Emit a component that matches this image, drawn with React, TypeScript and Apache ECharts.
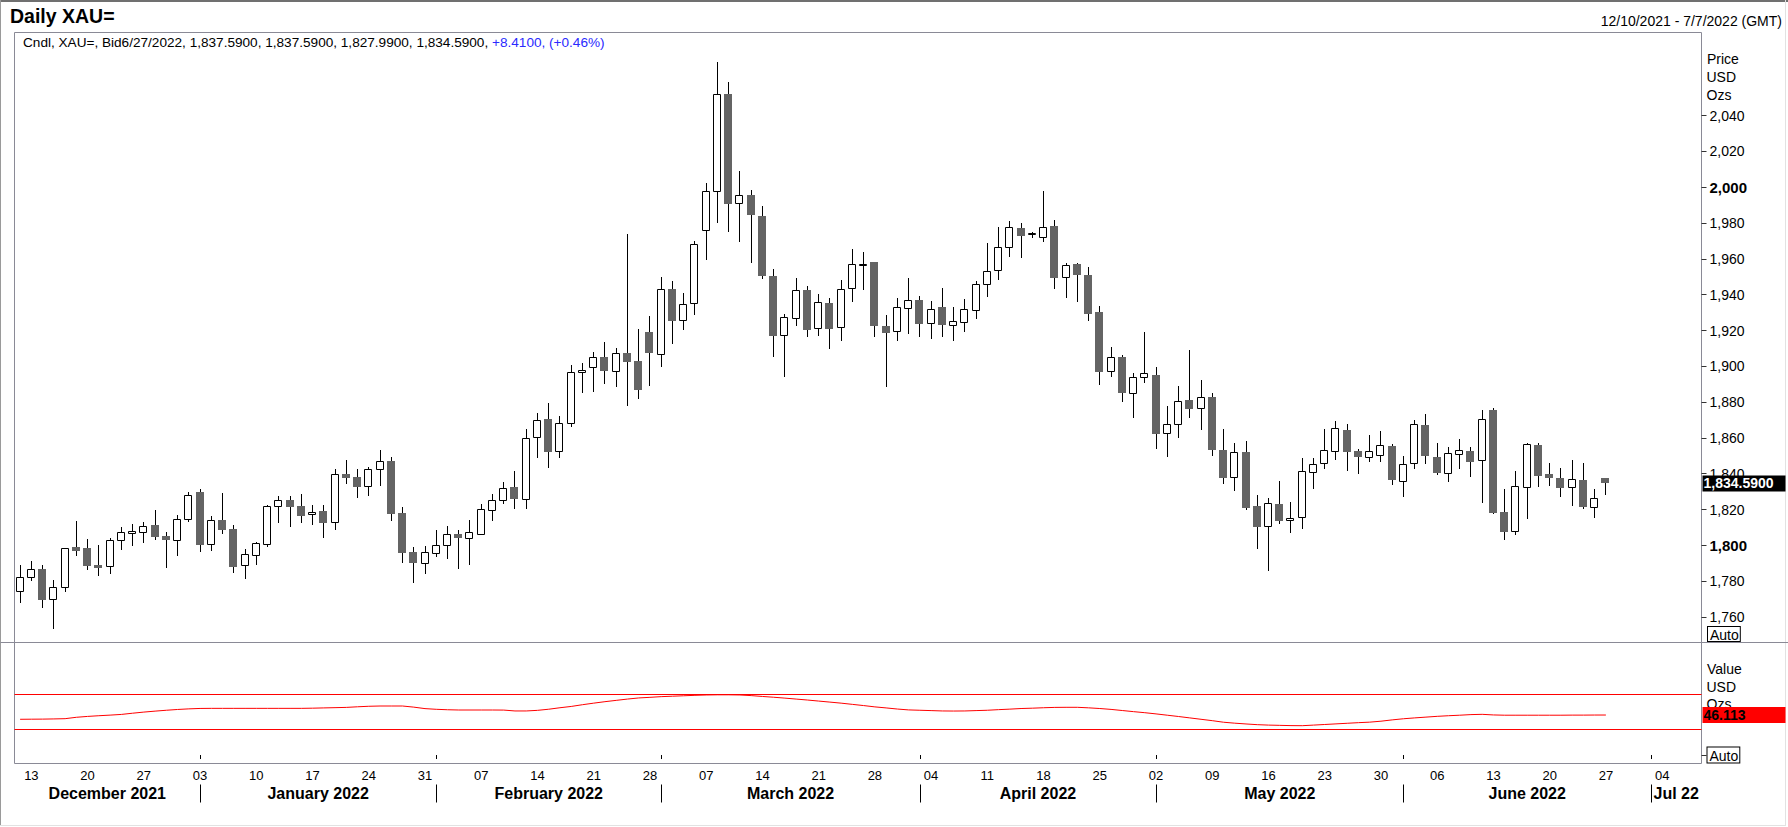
import React, { useEffect, useRef } from "react";
import * as echarts from "echarts";

const FONT = '"Liberation Sans", Arial, Helvetica, sans-serif';

// ---------- categories: every weekday shown on the time axis ----------
function weekdays(start: string, end: string): string[] {
  const out: string[] = [];
  const d = new Date(start + "T00:00:00Z");
  const e = new Date(end + "T00:00:00Z");
  while (d <= e) {
    const wd = d.getUTCDay();
    if (wd !== 0 && wd !== 6) out.push(d.toISOString().slice(0, 10));
    d.setUTCDate(d.getUTCDate() + 1);
  }
  return out;
}
const dates: string[] = weekdays("2021-12-10", "2022-07-07");

// ---------- daily candles [open, high, low, close] from 2021-12-10 ----------
const candles: number[][] = [
  [1774.3, 1789.0, 1768.0, 1782.1], [1782.1, 1791.2, 1780.2, 1786.6], [1786.6, 1789.0, 1765.2, 1769.6],
  [1769.8, 1780.4, 1753.0, 1776.5], [1776.5, 1798.6, 1774.1, 1798.3], [1799.0, 1813.6, 1794.2, 1797.0],
  [1798.5, 1803.5, 1786.4, 1788.6], [1789.2, 1800.2, 1783.0, 1787.5], [1788.2, 1803.9, 1784.2, 1802.8],
  [1802.8, 1810.2, 1797.6, 1807.2], [1807.0, 1811.7, 1799.8, 1807.8], [1807.2, 1812.8, 1801.5, 1810.6],
  [1811.3, 1819.7, 1803.2, 1804.8], [1805.2, 1807.2, 1787.5, 1803.2], [1803.2, 1816.7, 1794.2, 1814.5],
  [1814.5, 1829.6, 1813.2, 1827.9], [1829.8, 1831.3, 1796.4, 1800.2], [1800.5, 1816.2, 1797.0, 1813.9],
  [1814.1, 1829.2, 1806.5, 1808.7], [1809.1, 1811.2, 1784.7, 1788.1], [1788.8, 1797.8, 1781.4, 1795.0],
  [1794.4, 1801.7, 1789.2, 1801.1], [1800.9, 1822.5, 1799.2, 1821.8], [1821.8, 1827.4, 1812.6, 1825.1],
  [1825.3, 1827.5, 1810.4, 1821.6], [1822.0, 1828.7, 1812.6, 1816.6], [1817.3, 1822.5, 1811.5, 1818.6],
  [1819.2, 1822.5, 1804.3, 1812.6], [1812.8, 1842.6, 1808.7, 1839.6], [1839.8, 1847.6, 1834.4, 1837.7],
  [1838.2, 1842.6, 1826.6, 1832.7], [1833.3, 1843.7, 1827.7, 1842.6], [1842.4, 1853.2, 1833.3, 1847.1],
  [1847.1, 1849.1, 1813.8, 1817.7], [1818.0, 1821.2, 1789.9, 1795.9], [1796.3, 1798.9, 1778.8, 1790.3],
  [1789.9, 1799.4, 1783.8, 1796.1], [1795.5, 1808.5, 1793.7, 1800.2], [1800.0, 1810.8, 1792.5, 1806.3],
  [1806.3, 1808.5, 1786.9, 1803.9], [1803.9, 1814.1, 1789.2, 1807.2], [1806.1, 1823.1, 1805.8, 1820.1],
  [1819.5, 1828.7, 1813.8, 1825.1], [1825.3, 1835.4, 1823.3, 1832.0], [1832.6, 1841.7, 1820.1, 1826.0],
  [1825.7, 1865.0, 1820.1, 1859.8], [1860.3, 1874.1, 1849.0, 1869.8], [1870.6, 1879.7, 1843.0, 1852.3],
  [1852.5, 1872.2, 1849.0, 1868.3], [1868.1, 1900.7, 1865.9, 1896.6], [1897.0, 1901.7, 1884.9, 1897.9],
  [1899.6, 1908.0, 1885.8, 1905.2], [1905.2, 1913.6, 1889.9, 1897.6], [1897.6, 1910.2, 1888.2, 1907.2],
  [1907.4, 1973.9, 1878.0, 1902.6], [1903.0, 1920.8, 1881.9, 1886.9], [1919.2, 1928.1, 1889.2, 1907.6],
  [1907.1, 1949.9, 1899.8, 1943.2], [1943.2, 1947.7, 1912.6, 1925.5], [1925.8, 1940.9, 1920.3, 1934.6],
  [1935.2, 1970.0, 1928.7, 1968.1], [1975.9, 2002.2, 1959.6, 1997.7], [1997.7, 2069.8, 1980.2, 2051.9],
  [2052.1, 2058.6, 1975.2, 1990.9], [1991.0, 2008.9, 1969.6, 1995.5], [1995.5, 1998.5, 1957.9, 1984.7],
  [1984.0, 1989.5, 1949.0, 1950.6], [1950.4, 1954.4, 1905.4, 1917.1], [1917.3, 1929.2, 1894.2, 1927.4],
  [1926.8, 1949.1, 1922.7, 1942.4], [1942.6, 1944.9, 1916.6, 1920.5], [1921.2, 1940.4, 1917.1, 1935.7],
  [1935.4, 1938.2, 1909.8, 1921.0], [1921.8, 1948.2, 1914.3, 1943.0], [1943.5, 1965.5, 1936.1, 1957.0],
  [1956.6, 1963.9, 1942.8, 1957.3], [1958.3, 1958.5, 1916.2, 1922.7], [1922.5, 1928.5, 1888.6, 1918.8],
  [1919.5, 1938.0, 1914.3, 1932.9], [1932.4, 1949.1, 1917.9, 1936.9], [1937.0, 1939.1, 1916.2, 1923.8],
  [1924.0, 1936.3, 1915.1, 1931.8], [1933.1, 1943.7, 1916.6, 1923.3], [1922.9, 1932.9, 1914.3, 1925.1],
  [1924.6, 1937.6, 1919.4, 1931.8], [1931.3, 1947.5, 1926.2, 1945.8], [1945.8, 1968.7, 1938.9, 1953.1],
  [1953.6, 1977.6, 1948.2, 1966.5], [1966.5, 1981.0, 1961.3, 1977.6], [1977.1, 1979.9, 1960.3, 1973.0],
  [1973.7, 1975.2, 1971.9, 1974.5], [1972.0, 1997.9, 1969.6, 1978.0], [1978.4, 1981.7, 1943.0, 1949.5],
  [1949.7, 1957.5, 1938.3, 1956.8], [1957.0, 1957.5, 1936.1, 1951.2], [1950.8, 1955.5, 1925.5, 1929.4],
  [1930.2, 1933.7, 1889.7, 1897.0], [1897.2, 1910.8, 1894.2, 1905.0], [1905.0, 1906.3, 1880.2, 1885.3],
  [1885.3, 1896.1, 1871.3, 1893.8], [1893.8, 1919.0, 1890.9, 1896.1], [1895.1, 1899.4, 1854.0, 1862.4],
  [1862.5, 1877.8, 1849.5, 1867.6], [1867.6, 1889.0, 1860.1, 1880.6], [1881.2, 1909.1, 1871.3, 1876.3],
  [1876.5, 1892.3, 1864.6, 1882.7], [1882.9, 1884.9, 1850.1, 1853.4], [1853.2, 1865.0, 1834.4, 1837.8],
  [1838.0, 1857.0, 1830.5, 1851.9], [1852.1, 1858.3, 1819.7, 1821.0], [1821.9, 1828.1, 1798.1, 1810.4],
  [1810.6, 1826.2, 1785.8, 1823.4], [1823.1, 1835.9, 1811.7, 1813.8], [1813.9, 1824.2, 1806.7, 1815.1],
  [1815.6, 1848.8, 1809.3, 1841.3], [1840.8, 1848.8, 1831.6, 1845.2], [1845.8, 1865.0, 1842.8, 1853.0],
  [1852.9, 1869.4, 1847.8, 1865.3], [1864.4, 1867.8, 1841.7, 1852.3], [1852.7, 1853.8, 1840.0, 1849.5],
  [1849.1, 1861.6, 1846.7, 1852.5], [1850.3, 1863.9, 1846.7, 1855.8], [1855.5, 1856.6, 1833.7, 1836.7],
  [1835.7, 1849.9, 1827.2, 1845.2], [1845.8, 1870.0, 1842.4, 1867.6], [1867.2, 1873.4, 1845.6, 1850.1],
  [1849.3, 1857.2, 1839.5, 1840.6], [1840.2, 1854.9, 1835.6, 1851.4], [1850.8, 1859.4, 1842.8, 1853.1],
  [1852.7, 1854.7, 1838.3, 1846.7], [1847.6, 1875.6, 1823.8, 1870.4], [1875.6, 1876.7, 1817.7, 1818.0],
  [1818.4, 1831.4, 1803.1, 1807.6], [1807.8, 1841.5, 1805.9, 1832.9], [1832.4, 1857.0, 1814.9, 1856.4],
  [1856.0, 1857.0, 1832.8, 1838.7], [1839.8, 1846.0, 1833.1, 1837.8], [1837.6, 1843.2, 1827.2, 1832.2],
  [1832.4, 1847.6, 1822.1, 1836.9], [1836.5, 1846.0, 1820.5, 1821.6], [1821.2, 1831.4, 1815.4, 1826.18],
  [1837.59, 1837.59, 1827.99, 1834.59],
];

// ---------- MARSI (14, Wilder smoothing) values, same days ----------
const rsi: number[] = [
  41.2, 41.3, 41.4, 41.6, 41.9, 43.5, 44.5, 45.3, 46.0, 46.8,
  48.2, 49.5, 50.6, 51.6, 52.5, 53.2, 53.7, 53.8, 53.8, 53.8,
  53.8, 53.8, 53.8, 53.8, 53.8, 53.8, 54.0, 54.3, 54.6, 54.9,
  55.6, 56.2, 56.5, 56.5, 56.5, 55.2, 53.5, 52.7, 52.2, 51.9,
  51.9, 51.9, 51.9, 51.8, 50.8, 50.8, 51.5, 52.8, 54.5, 56.0,
  58.0, 59.8, 61.5, 63.0, 64.5, 65.8, 66.5, 67.3, 67.8, 68.3,
  68.8, 69.2, 69.4, 69.4, 69.2, 68.5, 67.5, 66.6, 65.6, 64.5,
  63.4, 62.2, 61.0, 59.8, 58.4, 57.0, 55.5, 54.3, 53.0, 52.0,
  51.6, 51.2, 50.8, 50.7, 50.8, 51.2, 51.6, 52.3, 52.9, 53.6,
  54.0, 54.5, 54.9, 55.0, 55.0, 54.4, 53.6, 52.6, 51.3, 50.0,
  48.8, 47.4, 45.9, 44.4, 42.8, 41.2, 39.6, 37.8, 36.7, 35.8,
  35.0, 34.5, 34.2, 33.9, 33.8, 34.5, 35.2, 35.9, 36.6, 37.3,
  37.9, 39.0, 40.5, 41.8, 42.8, 43.7, 44.6, 45.3, 45.9, 46.6,
  46.9, 46.2, 45.9, 45.9, 45.9, 45.9, 45.9, 45.9, 46.0, 46.0,
  46.1, 46.113,
];

const rsiBands: number[] = [70, 30];
const priceTicks: number[] = [1760, 1780, 1800, 1820, 1840, 1860, 1880, 1900, 1920, 1940, 1960, 1980, 2000, 2020, 2040];
const boldTicks: number[] = [1800, 2000];
const monthStarts: string[] = ["2022-01-03", "2022-02-01", "2022-03-01", "2022-04-01", "2022-05-02", "2022-06-01", "2022-07-01"];
const monthNames: string[] = ["December 2021", "January 2022", "February 2022", "March 2022", "April 2022", "May 2022", "June 2022", "Jul 22"];

// ---------- layout ----------
const W = 1788;
const H = 827;
const GL = 14.5;
const GW = 1687;
const PT = 32.5;
const PH = 610;
const RT = 642.5;
const RH = 121;

function fmt(v: number, dec: number): string {
  const s = v.toFixed(dec);
  const [a, b] = s.split(".");
  const withComma = a.replace(/\B(?=(\d{3})+(?!\d))/g, ",");
  return b ? withComma + "." + b : withComma;
}
function usDate(iso: string): string {
  const [y, m, d] = iso.split("-");
  return `${parseInt(m, 10)}/${parseInt(d, 10)}/${y}`;
}

const HIDDEN_LINE = { color: "rgba(0,0,0,0)", width: 1, type: "solid" };

export default function App() {
  const ref = useRef<HTMLDivElement>(null);

  useEffect(() => {
    if (!ref.current) return;
    const chart = echarts.init(ref.current, null, { renderer: "svg", width: W, height: H });

    const lastIdx = candles.length - 1;
    const last = candles[lastIdx];
    const prevClose = candles[lastIdx - 1][3];
    const change = last[3] - prevClose;
    const pct = (change / prevClose) * 100;
    const lastRsi = rsi[rsi.length - 1];
    const lastDate = usDate(dates[lastIdx]);
    const monthIdx = monthStarts.map((d) => dates.indexOf(d));

    const candleData = candles.map((c, i) => [i, c[0], c[3], c[2], c[1]]);

    const option: any = {
      animation: false,
      backgroundColor: "#ffffff",
      textStyle: { fontFamily: FONT },
      title: [
        {
          text: "Daily XAU=",
          left: 10,
          top: 6,
          padding: 0,
          textStyle: { fontSize: 19.5, fontWeight: "bold", color: "#000", fontFamily: FONT },
        },
        {
          text: "12/10/2021 - 7/7/2022 (GMT)",
          right: 6,
          top: 14,
          padding: 0,
          textStyle: { fontSize: 14, fontWeight: "normal", color: "#000", fontFamily: FONT },
        },
      ],
      grid: [
        { left: GL, top: PT, width: GW, height: PH, show: true, borderColor: "#8a8a96", borderWidth: 1, backgroundColor: "#fff" },
        { left: GL, top: RT, width: GW, height: RH, show: true, borderColor: "#8a8a96", borderWidth: 1, backgroundColor: "#fff" },
      ],
      xAxis: [
        {
          type: "category",
          gridIndex: 0,
          data: dates,
          boundaryGap: true,
          axisLine: { show: false },
          axisTick: { show: false },
          axisLabel: { show: false },
          splitLine: { show: false },
        },
        {
          type: "category",
          gridIndex: 1,
          data: dates,
          boundaryGap: true,
          axisLine: { show: false },
          axisTick: {
            show: true,
            alignWithLabel: true,
            length: 4,
            interval: (i: number) => monthIdx.includes(i),
            lineStyle: { color: "#000", width: 1 },
          },
          axisLabel: {
            interval: (i: number) => i % 5 === 1,
            formatter: (v: string) => v.slice(8),
            fontSize: 13,
            color: "#000",
            margin: 5,
            fontFamily: FONT,
          },
          splitLine: { show: false },
        },
        {
          type: "category",
          gridIndex: 1,
          data: dates,
          boundaryGap: true,
          position: "bottom",
          offset: 21,
          axisLine: { show: false },
          axisLabel: { show: false },
          axisTick: {
            show: true,
            alignWithLabel: true,
            length: 18,
            interval: (i: number) => monthIdx.includes(i),
            lineStyle: { color: "#000", width: 1 },
          },
          splitLine: { show: false },
        },
      ],
      yAxis: [
        {
          type: "value",
          gridIndex: 0,
          position: "right",
          min: 1745.7,
          max: 2086.48,
          splitLine: { show: false },
          axisLine: { show: false },
          axisTick: { show: true, length: 5, customValues: priceTicks, lineStyle: { color: "#333" } },
          axisLabel: {
            customValues: priceTicks,
            margin: 8,
            fontSize: 14,
            color: "#000",
            fontFamily: FONT,
            formatter: (v: number) => (boldTicks.includes(v) ? `{b|${fmt(v, 0)}}` : fmt(v, 0)),
            rich: { b: { fontWeight: "bold", fontSize: 15, color: "#000", fontFamily: FONT } },
          },
        },
        {
          type: "value",
          gridIndex: 1,
          position: "right",
          min: -9.77,
          max: 129.71,
          splitLine: { show: false },
          axisLine: { show: false },
          axisTick: { show: true, length: 5, customValues: [0], lineStyle: { color: "#333" } },
          axisLabel: {
            customValues: [0],
            margin: 6,
            formatter: () => "{a|Auto}",
            rich: {
              a: {
                fontSize: 14,
                color: "#000",
                fontFamily: FONT,
                borderColor: "#000",
                borderWidth: 1,
                backgroundColor: "#fff",
                padding: [1, 1, 0, 2],
                lineHeight: 13,
              },
            },
          },
        },
      ],
      series: [
        {
          type: "custom",
          name: "XAU=",
          xAxisIndex: 0,
          yAxisIndex: 0,
          clip: true,
          silent: true,
          z: 2,
          encode: { x: 0, y: [1, 2, 3, 4] },
          data: candleData,
          renderItem: (params: any, api: any) => {
            const idx = api.value(0);
            const o = api.value(1);
            const c = api.value(2);
            const l = api.value(3);
            const h = api.value(4);
            const pO = api.coord([idx, o]);
            const pC = api.coord([idx, c]);
            const pL = api.coord([idx, l]);
            const pH = api.coord([idx, h]);
            const band = api.size([1, 0])[0];
            const bw = Math.round(band * 0.72);
            const cx = Math.round(pO[0] - 0.5);
            const left = cx - Math.floor(bw / 2);
            const bull = c >= o;
            const yTop = Math.round(Math.min(pO[1], pC[1]));
            const yBot = Math.round(Math.max(pO[1], pC[1]));
            const wick = {
              type: "line",
              shape: { x1: cx + 0.5, y1: Math.round(pH[1]), x2: cx + 0.5, y2: Math.round(pL[1]) },
              style: { stroke: "#000", lineWidth: 1 },
            };
            const body = bull
              ? {
                  type: "rect",
                  shape: { x: left + 0.5, y: yTop + 0.5, width: bw - 1, height: Math.max(yBot - yTop, 1) },
                  style: { fill: "#fff", stroke: "#000", lineWidth: 1 },
                }
              : {
                  type: "rect",
                  shape: { x: left, y: yTop, width: bw, height: Math.max(yBot - yTop, 1) },
                  style: { fill: "#646464" },
                };
            return { type: "group", children: [wick, body] };
          },
          markLine: {
            silent: true,
            symbol: "none",
            z: 10,
            lineStyle: HIDDEN_LINE,
            data: [
              {
                yAxis: last[3],
                lineStyle: HIDDEN_LINE,
                label: {
                  show: true,
                  position: "end",
                  distance: 1,
                  formatter: fmt(last[3], 4),
                  color: "#fff",
                  backgroundColor: "#000",
                  fontWeight: "bold",
                  fontSize: 14,
                  fontFamily: FONT,
                  lineHeight: 14,
                  padding: [1, 0, 1, 1],
                  width: 82,
                },
              },
            ],
          },
        },
        {
          type: "line",
          name: "MARSI",
          xAxisIndex: 1,
          yAxisIndex: 1,
          data: rsi,
          showSymbol: false,
          symbol: "none",
          silent: true,
          lineStyle: { color: "#ff0000", width: 1 },
          markLine: {
            silent: true,
            symbol: "none",
            z: 10,
            lineStyle: { color: "#ff0000", width: 1, type: "solid" },
            label: { show: false },
            data: [
              ...rsiBands.map((b) => ({ yAxis: b })),
              {
                yAxis: lastRsi,
                lineStyle: HIDDEN_LINE,
                label: {
                  show: true,
                  position: "end",
                  distance: 1,
                  formatter: lastRsi.toFixed(3),
                  color: "#000",
                  backgroundColor: "#ff0000",
                  fontWeight: "bold",
                  fontSize: 14,
                  fontFamily: FONT,
                  lineHeight: 14,
                  padding: [1, 0, 1, 1],
                  width: 82,
                },
              },
            ],
          },
        },
      ],
    };

    chart.setOption(option);

    // month labels centred on each month's span of the axis
    const px = (i: number) => chart.convertToPixel({ xAxisIndex: 1 }, dates[i]) as number;
    const bounds: number[] = [GL, ...monthIdx.map((i) => px(i)), GL + GW];
    const monthTexts = monthNames.map((name, k) => ({
      type: "text",
      x: (bounds[k] + bounds[k + 1]) / 2,
      y: 793.5,
      silent: true,
      style: {
        text: name,
        fontSize: 16,
        fontWeight: "bold",
        fontFamily: FONT,
        fill: "#000",
        align: "center",
        verticalAlign: "middle",
      },
    }));

    const txt = (text: string, x: number, y: number, fill = "#000", size = 14) => ({
      type: "text",
      x,
      y,
      silent: true,
      z: -1,
      style: { text, fontSize: size, fontFamily: FONT, fill, align: "left", verticalAlign: "middle" },
    });

    const header = `Cndl, XAU=, Bid${lastDate}, ${fmt(last[0], 4)}, ${fmt(last[1], 4)}, ${fmt(last[2], 4)}, ${fmt(last[3], 4)}, `;
    const chg = `${change >= 0 ? "+" : ""}${fmt(change, 4)}, (${change >= 0 ? "+" : ""}${pct.toFixed(2)}%)`;

    const line = (x1: number, y1: number, x2: number, y2: number, stroke: string, lw = 1) => ({
      type: "line",
      silent: true,
      shape: { x1, y1, x2, y2 },
      style: { stroke, lineWidth: lw },
    });

    chart.setOption({
      graphic: [
        line(0, 1, W, 1, "#707070", 2),
        line(0.5, 0, 0.5, 826, "#9a9a9a", 1),
        line(1785.5, 0, 1785.5, 826, "#e2e2e2", 1),
        line(0, 825.5, 1786, 825.5, "#e2e2e2", 1),
        line(0.5, RT, W, RT, "#8a8a96", 1),
        {
          type: "text",
          x: 23,
          y: 42.5,
          silent: true,
          style: {
            text: `{k|${header}}{c|${chg}}`,
            verticalAlign: "middle",
            rich: {
              k: { fill: "#000", fontSize: 13.6, fontFamily: FONT },
              c: { fill: "#2a2aff", fontSize: 13.6, fontFamily: FONT },
            },
          },
        },
        txt(`MARSI, XAU=, Bid(Last),  14, Wilder Smoothing, 14${lastDate}, ${lastRsi.toFixed(3)}`, 23, 653.5, "#ff0000", 13.6),
        txt("Price", 1707, 58.5),
        txt("USD", 1706.5, 76.5),
        txt("Ozs", 1706.5, 94.5),
        txt("Value", 1707, 668.5),
        txt("USD", 1706.5, 686.5),
        txt("Ozs", 1706.5, 703.5),
        {
          type: "text",
          x: 1708,
          y: 627,
          silent: true,
          style: {
            text: "Auto",
            fontSize: 14,
            fontFamily: FONT,
            fill: "#000",
            backgroundColor: "#fff",
            borderColor: "#000",
            borderWidth: 1,
            padding: [1, 1, 0, 2],
            lineHeight: 13,
            verticalAlign: "top",
          },
        },
        ...monthTexts,
      ],
    });

    return () => {
      chart.dispose();
    };
  }, []);

  return (
    <div
      ref={ref}
      style={{ position: "fixed", left: 0, top: 0, width: W, height: H, background: "#fff" }}
    />
  );
}
